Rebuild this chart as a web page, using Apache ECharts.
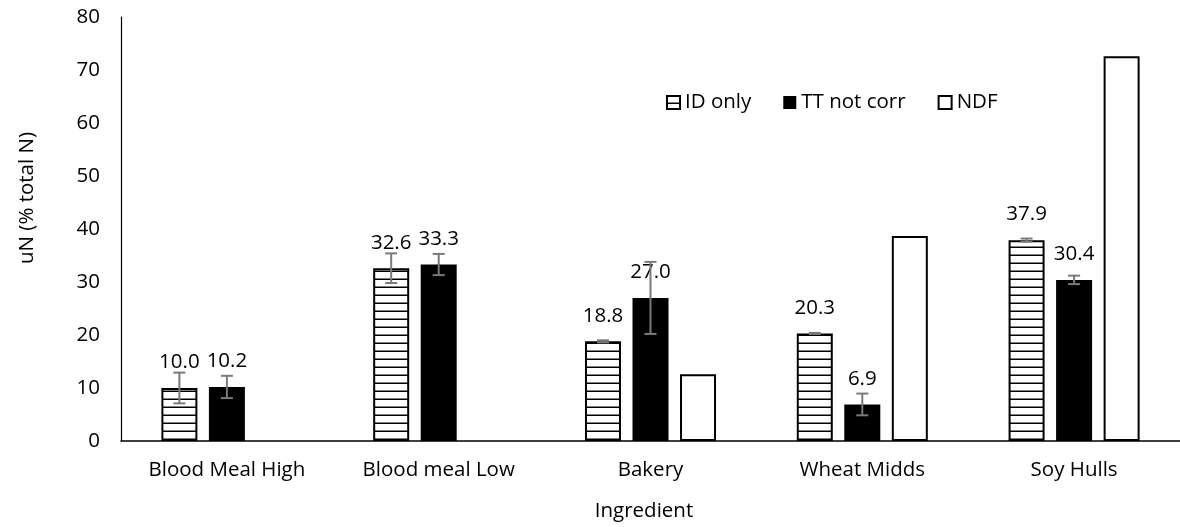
<!DOCTYPE html>
<html>
<head>
<meta charset="utf-8">
<script src="https://cdn.jsdelivr.net/npm/echarts@6/dist/echarts.min.js"></script>
<style>
html,body{margin:0;padding:0;background:#fff;}
#c{width:1180px;height:527px;}
</style>
</head>
<body>
<div id="c"></div>
<script>
const categories = ['Blood Meal High', 'Blood meal Low', 'Bakery', 'Wheat Midds', 'Soy Hulls'];
const seriesNames = ['ID only', 'TT not corr', 'NDF'];
const idOnly = [10.0, 32.6, 18.8, 20.3, 37.9];
const ttNotCorr = [10.2, 33.3, 27.0, 6.9, 30.4];
const ndf = [null, null, 12.6, 38.7, 72.6];
const idOnlyErr = [2.9, 2.8, 0.2, 0.1, 0.3];
const ttNotCorrErr = [2.1, 2.0, 6.8, 2.05, 0.8];
const yTicks = [0, 10, 20, 30, 40, 50, 60, 70, 80];

const FONT = 'Open Sans';
const FS = 20.5;
const BAR_W = 36;
const GAP_RATIO = 0.32;
const STEP = BAR_W * (1 + GAP_RATIO);

// horizontal-stripe pattern
const pc = document.createElement('canvas');
pc.width = 8; pc.height = 8;
const pctx = pc.getContext('2d');
pctx.fillStyle = '#ffffff';
pctx.fillRect(0, 0, 8, 8);
pctx.fillStyle = '#000000';
pctx.fillRect(0, 6.5, 8, 1.6);

function errSeries(vals, errs, seriesIdx) {
  const data = vals.map((v, i) => [i, v, errs[i]]);
  return {
    type: 'custom',
    name: seriesNames[seriesIdx] + ' err',
    z: 5,
    silent: true,
    data: data,
    renderItem: function (params, api) {
      const i = api.value(0), v = api.value(1), e = api.value(2);
      const hi = api.coord([i, v + e]);
      const lo = api.coord([i, v - e]);
      const x = hi[0] + (seriesIdx - 1) * STEP;
      const cap = 6;
      const st = { stroke: '#7a7a7a', lineWidth: 2 };
      return {
        type: 'group',
        children: [
          { type: 'line', shape: { x1: x, y1: hi[1], x2: x, y2: lo[1] }, style: st },
          { type: 'line', shape: { x1: x - cap, y1: hi[1], x2: x + cap, y2: hi[1] }, style: st },
          { type: 'line', shape: { x1: x - cap, y1: lo[1], x2: x + cap, y2: lo[1] }, style: st }
        ]
      };
    }
  };
}

const labelCfg = {
  show: true,
  position: 'top',
  distance: 15,
  fontFamily: FONT,
  fontSize: FS,
  color: '#000',
  formatter: p => p.value.toFixed(1)
};

const chart = echarts.init(document.getElementById('c'));
chart.setOption({
  animation: false,
  backgroundColor: '#fff',
  grid: { left: 121, top: 17, bottom: 86, width: 1064 },
  legend: {
    data: seriesNames.map(n => ({ name: n, icon: 'rect' })),
    left: 661,
    top: 87,
    itemWidth: 13,
    itemHeight: 13,
    itemGap: 32,
    textStyle: { fontFamily: FONT, fontSize: FS, color: '#000' }
  },
  xAxis: {
    type: 'category',
    data: categories,
    axisLine: { lineStyle: { color: '#000', width: 1.5 } },
    axisTick: { show: false },
    axisLabel: { fontFamily: FONT, fontSize: FS, color: '#000', margin: 19 }
  },
  yAxis: {
    type: 'value',
    min: yTicks[0],
    max: yTicks[yTicks.length - 1],
    interval: 10,
    axisLine: { show: true, lineStyle: { color: '#000', width: 1.2 } },
    axisTick: { show: false },
    splitLine: { show: false },
    axisLabel: { fontFamily: FONT, fontSize: FS, color: '#000', margin: 21 }
  },
  graphic: [
    { type: 'text', x: 644, y: 511, style: { text: 'Ingredient', font: FS + 'px "Open Sans"', fill: '#000', align: 'center', verticalAlign: 'middle' } },
    { type: 'text', x: 27, y: 198, rotation: Math.PI / 2, style: { text: 'uN (% total N)', font: FS + 'px "Open Sans"', fill: '#000', align: 'center', verticalAlign: 'middle' } }
  ],
  series: [
    {
      name: seriesNames[0], type: 'bar', data: idOnly, barWidth: BAR_W, barGap: (GAP_RATIO * 100) + '%',
      itemStyle: { color: { image: pc, repeat: 'repeat' }, borderColor: '#000', borderWidth: 2 },
      label: labelCfg
    },
    {
      name: seriesNames[1], type: 'bar', data: ttNotCorr, barWidth: BAR_W, barGap: (GAP_RATIO * 100) + '%',
      itemStyle: { color: '#000' },
      label: labelCfg
    },
    {
      name: seriesNames[2], type: 'bar', data: ndf, barWidth: BAR_W, barGap: (GAP_RATIO * 100) + '%',
      itemStyle: { color: '#fff', borderColor: '#000', borderWidth: 2 }
    },
    errSeries(idOnly, idOnlyErr, 0),
    errSeries(ttNotCorr, ttNotCorrErr, 1)
  ]
});
</script>
</body>
</html>
